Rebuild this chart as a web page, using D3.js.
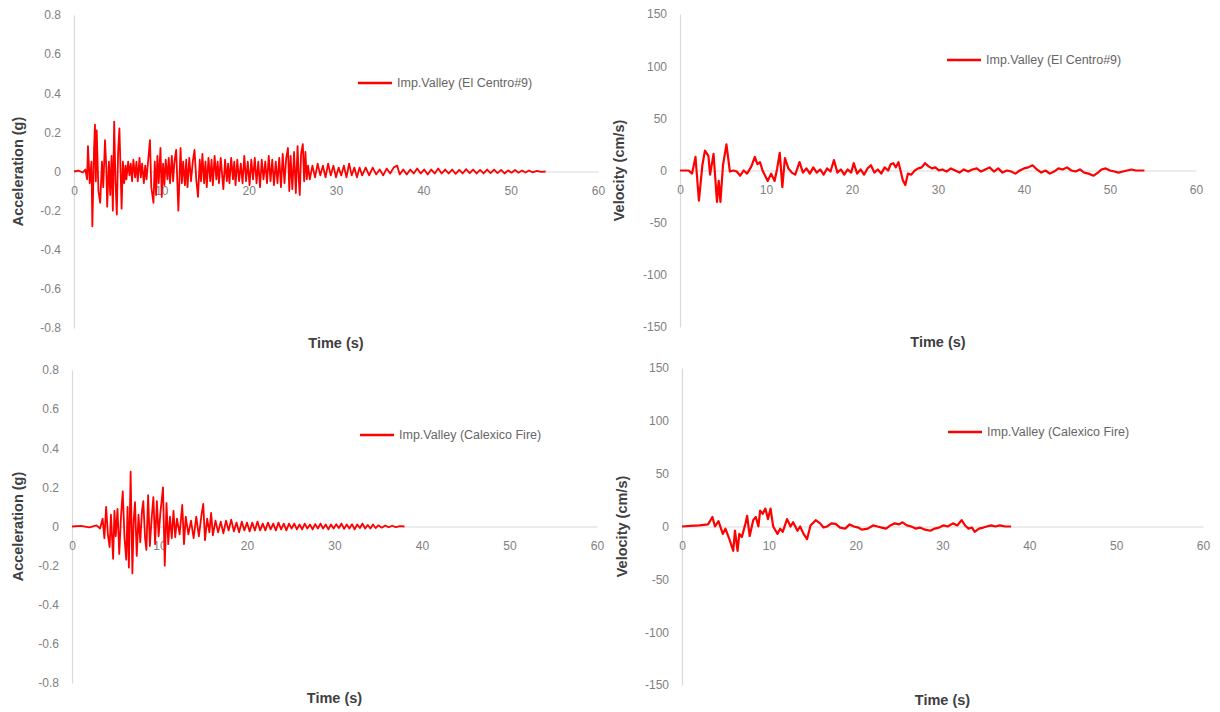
<!DOCTYPE html>
<html>
<head>
<meta charset="utf-8">
<script src="https://cdn.jsdelivr.net/npm/d3@7"></script>
<style>
  body { margin: 0; background: #fff; }
  svg { font-family: "Liberation Sans", Arial, sans-serif; }
  .tick-label { fill: #808080; font-size: 12px; }
  .axis-title { fill: #404040; font-size: 14.5px; font-weight: bold; }
  .legend-text { fill: #666666; font-size: 12.5px; }
</style>
</head>
<body>
<div id="graph_draw"></div>
<script>
// tick labels
var timeTicks = [0, 10, 20, 30, 40, 50, 60];
var accTicks = [-0.8, -0.6, -0.4, -0.2, 0, 0.2, 0.4, 0.6, 0.8];
var velTicks = [-150, -100, -50, 0, 50, 100, 150];

// records
var nameElCentro = "Imp.Valley (El Centro#9)";
var nameCalexico = "Imp.Valley (Calexico Fire)";

// El Centro #9 acceleration (g) : [time s, value]
var accElCentro = [
  [0,0],[0.5,0.005],[1.0,-0.005],[1.3,0.01],[1.5,-0.04],[1.6,0.13],[1.8,-0.06],[2.0,0.05],[2.1,-0.28],
  [2.3,0.12],[2.4,0.24],[2.5,-0.05],[2.6,0.21],[2.8,-0.1],[3.0,-0.16],[3.2,0.05],[3.35,-0.08],[3.55,0.16],
  [3.7,0.02],[3.8,-0.18],[4.0,0.05],[4.15,-0.12],[4.3,0.08],[4.45,-0.2],[4.6,0.255],[4.75,-0.05],[4.9,-0.22],
  [5.05,0.1],[5.2,0.22],[5.35,-0.02],[5.45,-0.19],[5.6,0.05],[5.75,-0.06],[5.9,0.03],[6.0,-0.04],[6.2,0.05],
  [6.35,-0.02],[6.5,0.04],[6.65,-0.05],[6.8,0.06],[7.0,-0.03],[7.15,0.05],[7.3,-0.05],[7.5,0.07],[7.65,-0.03],
  [7.8,0.04],[8.0,-0.06],[8.15,0.03],[8.3,-0.04],[8.5,0.06],[8.7,0.16],[8.85,-0.08],[9.1,-0.16],[9.25,0.05],
  [9.4,-0.12],[9.55,0.08],[9.7,-0.06],[9.9,0.12],[10.05,-0.13],[10.2,0.04],[10.35,-0.07],[10.5,0.06],[10.7,-0.04],
  [10.85,0.07],[11.0,-0.06],[11.2,0.08],[11.35,-0.05],[11.5,0.05],[11.7,0.11],[11.95,-0.2],[12.2,0.12],[12.35,-0.06],
  [12.5,0.05],[12.7,-0.07],[12.85,0.06],[13.0,-0.08],[13.2,0.07],[13.4,-0.05],[13.6,0.05],[13.8,0.11],[14.0,-0.04],
  [14.2,-0.13],[14.4,0.06],[14.55,-0.05],[14.7,0.09],[14.9,-0.06],[15.05,0.05],[15.2,-0.08],[15.4,0.07],[15.6,-0.05],
  [15.75,0.06],[15.9,-0.07],[16.1,0.08],[16.3,-0.04],[16.45,0.05],[16.6,-0.06],[16.8,0.07],[17.1,-0.09],[17.3,0.06],
  [17.5,-0.05],[17.65,0.04],[17.8,-0.06],[18.0,0.07],[18.2,-0.04],[18.35,0.05],[18.5,-0.07],[18.7,0.06],[18.9,-0.05],
  [19.1,0.04],[19.3,-0.06],[19.5,0.08],[19.7,-0.05],[19.9,0.05],[20.1,-0.07],[20.3,0.06],[20.5,-0.04],[20.7,0.07],
  [20.9,-0.06],[21.1,0.05],[21.3,-0.08],[21.5,0.06],[21.7,-0.04],[21.9,0.05],[22.1,-0.06],[22.3,0.08],[22.5,-0.05],
  [22.7,0.06],[22.9,-0.07],[23.1,0.05],[23.3,-0.06],[23.5,0.07],[23.7,-0.08],[23.9,0.09],[24.1,-0.06],[24.3,0.07],
  [24.5,0.12],[24.65,-0.1],[24.8,0.08],[25.0,-0.09],[25.2,0.1],[25.4,-0.11],[25.6,0.13],[25.75,-0.05],[25.85,-0.12],
  [26.0,0.09],[26.2,0.14],[26.35,-0.05],[26.5,0.1],[26.65,-0.04],[26.8,0.03],[27.0,-0.04],[27.3,0.03],[27.6,-0.03],
  [27.9,0.04],[28.2,-0.02],[28.5,0.03],[28.8,-0.03],[29.1,0.04],[29.4,-0.02],[29.7,0.03],[30.0,-0.03],[30.3,0.02],
  [30.6,-0.02],[30.9,0.03],[31.2,-0.03],[31.5,0.04],[31.8,-0.02],[32.1,0.02],[32.4,-0.03],[32.7,0.02],[33.0,-0.02],
  [33.4,0.02],[33.8,-0.02],[34.2,0.02],[34.6,-0.015],[35.0,0.01],[35.4,-0.02],[35.8,0.015],[36.2,-0.01],[36.6,0.02],
  [37.0,0.03],[37.3,-0.015],[37.7,0.01],[38.1,-0.015],[38.5,0.01],[38.9,-0.01],[39.3,0.015],[39.7,-0.01],[40.1,0.01],
  [40.5,-0.015],[40.9,0.01],[41.3,-0.01],[41.7,0.015],[42.1,-0.01],[42.5,0.01],[42.9,-0.01],[43.3,0.01],[43.7,-0.012],
  [44.1,0.008],[44.5,-0.01],[44.9,0.012],[45.3,-0.008],[45.7,0.01],[46.1,-0.01],[46.5,0.008],[46.9,-0.01],[47.3,0.01],
  [47.7,-0.008],[48.1,0.01],[48.5,-0.008],[48.9,0.008],[49.3,-0.01],[49.7,0.006],[50.1,-0.006],[50.5,0.008],[50.9,-0.006],
  [51.3,0.005],[51.7,-0.005],[52.1,0.005],[52.5,-0.004],[53.0,0.003],[53.5,-0.002],[54.0,0]
];

// El Centro #9 velocity (cm/s)
var velElCentro = [
  [0,0],[1.0,0],[1.4,-3],[1.8,13],[2.2,-29],[2.6,5],[2.9,19],[3.3,14],[3.5,-4],[3.9,16],[4.3,-30],[4.5,-10],
  [4.7,-30],[5.0,5],[5.4,25],[5.8,-1],[6.2,0],[6.6,-1],[7.0,-5],[7.4,0],[7.8,-3],[8.3,4],[8.7,13],[9.0,6],
  [9.3,8],[9.6,0],[10.2,-10],[10.6,-3],[11.0,-10],[11.3,2],[11.6,17],[11.9,-16],[12.2,12],[12.6,2],[13.0,-2],
  [13.4,-4],[13.9,8],[14.3,-2],[14.7,2],[15.1,-3],[15.5,3],[15.9,-2],[16.3,1],[16.7,-4],[17.1,2],[17.5,-1],
  [17.9,10],[18.3,-2],[18.7,1],[19.1,-4],[19.5,1],[19.9,-2],[20.2,7],[20.6,-3],[21.0,1],[21.4,-4],[21.8,2],
  [22.2,5],[22.6,-2],[23.0,1],[23.4,-3],[23.8,3],[24.2,0],[24.5,6],[24.8,7],[25.1,3],[25.4,8],[25.7,-2],
  [25.9,-9],[26.2,-14],[26.5,-3],[26.9,-4],[27.3,0],[27.7,2],[28.1,3],[28.5,7],[28.9,4],[29.3,2],[29.7,3],
  [30.1,0],[30.5,1],[31.0,-1],[31.5,2],[32.0,0],[32.5,-2],[33.0,1],[33.5,-1],[34.0,1],[34.5,2],[35.0,-1],
  [35.5,1],[36.0,3],[36.5,-1],[37.0,2],[37.5,-2],[38.0,0],[38.5,-1],[39.0,-3],[39.5,0],[40.0,2],[40.5,3],
  [41.0,5],[41.5,1],[42.0,-2],[42.5,0],[43.0,-3],[43.5,-1],[44.0,2],[44.5,1],[45.0,3],[45.5,0],[46.0,-1],
  [46.5,1],[47.0,-2],[47.5,-3],[48.1,-5],[48.6,-2],[49.0,1],[49.5,2],[50.0,0],[50.5,-1],[51.0,-2],[51.5,-1],
  [52.0,0],[52.5,1],[53.0,0],[53.5,0],[54.0,0]
];

// Calexico Fire acceleration (g)
var accCalexico = [
  [0,0],[1.0,0.003],[2.0,-0.004],[2.8,0.006],[3.2,-0.01],[3.5,0.04],[3.7,-0.06],[3.9,0.1],[4.1,-0.04],
  [4.3,-0.105],[4.45,0.06],[4.7,-0.165],[4.85,0.08],[5.0,-0.05],[5.2,0.09],[5.4,-0.14],[5.6,0.05],[5.8,0.18],
  [6.0,-0.06],[6.2,-0.17],[6.35,0.1],[6.5,-0.21],[6.7,0.28],[6.9,-0.24],[7.05,0.03],[7.2,0.125],[7.4,-0.15],
  [7.6,0.06],[7.8,-0.08],[8.0,0.08],[8.15,0.13],[8.35,-0.06],[8.5,-0.12],[8.7,0.16],[8.9,-0.1],[9.1,0.04],
  [9.3,0.15],[9.5,-0.09],[9.7,0.13],[9.9,-0.05],[10.1,0.07],[10.4,0.2],[10.6,-0.2],[10.8,0.12],[11.0,-0.09],
  [11.2,0.05],[11.4,-0.06],[11.6,0.08],[11.8,-0.055],[12.0,0.04],[12.3,-0.04],[12.6,0.11],[12.8,-0.09],[13.0,0.05],
  [13.3,-0.04],[13.6,0.03],[13.9,-0.06],[14.2,0.05],[14.5,-0.05],[14.8,0.06],[15.0,0.115],[15.2,-0.07],[15.45,0.04],
  [15.7,-0.03],[15.9,0.07],[16.1,-0.045],[16.4,0.03],[16.7,-0.03],[17.0,0.025],[17.3,-0.035],[17.6,0.03],[17.9,-0.02],
  [18.2,0.035],[18.5,-0.025],[18.8,0.02],[19.1,-0.03],[19.4,0.025],[19.7,-0.02],[20.0,0.02],[20.3,-0.025],[20.6,0.02],
  [20.9,-0.02],[21.2,0.025],[21.5,-0.02],[21.8,0.015],[22.1,-0.02],[22.4,0.02],[22.7,-0.015],[23.0,0.015],[23.3,-0.02],
  [23.6,0.02],[23.9,-0.015],[24.2,0.015],[24.5,-0.02],[24.8,0.015],[25.1,-0.01],[25.4,0.015],[25.7,-0.015],[26.0,0.01],
  [26.3,-0.015],[26.6,0.015],[26.9,-0.01],[27.2,0.01],[27.5,-0.015],[27.8,0.012],[28.1,-0.01],[28.4,0.015],[28.7,-0.01],
  [29.0,0.01],[29.3,-0.015],[29.6,0.01],[29.9,-0.01],[30.2,0.012],[30.5,-0.008],[30.8,0.015],[31.1,-0.012],[31.4,0.01],
  [31.7,-0.01],[32.0,0.012],[32.3,-0.015],[32.6,0.01],[32.9,-0.008],[33.2,0.015],[33.5,-0.01],[33.8,0.008],[34.1,-0.01],
  [34.4,0.01],[34.7,-0.008],[35.0,0.006],[35.4,-0.006],[35.8,0.005],[36.2,-0.004],[36.6,0.004],[37.0,-0.003],[37.5,0.002],
  [38.0,0]
];

// Calexico Fire velocity (cm/s)
var velCalexico = [
  [0,0],[1.0,0.5],[2.0,1],[3.0,2],[3.5,9],[3.8,0],[4.2,5],[4.7,-7],[5.0,-2],[5.5,-13],[5.9,-23],[6.1,-4],
  [6.4,-23],[6.6,-7],[6.9,-10],[7.3,2.5],[7.5,10],[7.8,-9],[8.2,6],[8.5,9],[8.8,0],[9.0,15],[9.3,12],[9.6,17],
  [9.9,7],[10.2,17],[10.5,0],[11.0,-7],[11.3,-2],[11.6,-5],[12.1,7],[12.5,0],[12.8,4],[13.3,-4],[13.6,0],
  [14.0,-7],[14.4,-12],[14.8,1],[15.4,6],[15.9,3],[16.3,-1],[16.7,0],[17.2,3],[17.7,2.5],[18.2,-1],[18.8,-2],
  [19.3,2],[19.8,0],[20.3,-1],[20.7,-3],[21.4,-2],[22.0,1],[22.5,0],[23.0,-1],[23.5,-2],[24.0,1],[24.5,3],
  [25.0,2],[25.4,4],[25.9,1],[26.4,0],[26.9,-2],[27.4,-1],[28.0,-3],[28.6,-4],[29.1,-2],[29.6,-1],[30.1,1],
  [30.6,0],[31.2,3],[31.7,1],[32.2,6],[32.6,1],[33.0,-2],[33.4,-1],[33.7,-5],[34.2,-2],[34.7,-1],[35.1,0],
  [35.6,1],[36.1,0],[36.6,1],[37.2,0],[37.9,0]
];

var width = 1220, height = 712;

var svg = d3.select("#graph_draw").append("svg")
    .attr("width", width)
    .attr("height", height);

// one panel per plot, box is the plot area in page pixels
var panels = [
  {data: accElCentro, name: nameElCentro, yTicks: accTicks, yTitle: "Acceleration (g)", lw: 1.8,
   box: {l: 74, r: 598, t: 15, b: 328}, titleX: 18, legend: {x: 284, y: 68}},
  {data: velElCentro, name: nameElCentro, yTicks: velTicks, yTitle: "Velocity (cm/s)", lw: 2.2,
   box: {l: 680, r: 1196, t: 14, b: 327}, titleX: 619, legend: {x: 267, y: 46}},
  {data: accCalexico, name: nameCalexico, yTicks: accTicks, yTitle: "Acceleration (g)", lw: 1.8,
   box: {l: 72, r: 597, t: 370, b: 683}, titleX: 18, legend: {x: 288, y: 65}},
  {data: velCalexico, name: nameCalexico, yTicks: velTicks, yTitle: "Velocity (cm/s)", lw: 2.2,
   box: {l: 682, r: 1203, t: 368, b: 685}, titleX: 622, legend: {x: 266, y: 64}}
];

panels.forEach(function(p) {
    var x = d3.scaleLinear().domain([0, 60]).range([p.box.l, p.box.r]);
    var y = d3.scaleLinear().domain(d3.extent(p.yTicks)).range([p.box.b, p.box.t]);
    var g = svg.append("g");

    // y axis line + labels (plain hyphen minus like the original)
    var yAxis = g.append("g")
        .attr("transform", "translate(" + p.box.l + ",0)")
        .call(d3.axisLeft(y).tickValues(p.yTicks).tickSize(0).tickPadding(13)
              .tickFormat(function(d) { return String(+d.toFixed(1)); }));
    yAxis.select(".domain").attr("stroke", "#d9d9d9").attr("stroke-width", 1.2);
    yAxis.selectAll("text").attr("class", "tick-label").attr("font-size", null).attr("font-family", null).attr("fill", null);

    // x axis sits on zero, labels below it
    var xAxis = g.append("g")
        .attr("transform", "translate(0," + y(0) + ")")
        .call(d3.axisBottom(x).tickValues(timeTicks).tickSize(0).tickPadding(15)
              .tickFormat(function(d) { return String(d); }));
    xAxis.select(".domain").attr("stroke", "#d9d9d9").attr("stroke-width", 1.2);
    xAxis.selectAll("text").attr("class", "tick-label").attr("font-size", null).attr("font-family", null).attr("fill", null);

    // the record
    var valueline = d3.line()
        .x(function(d) { return x(d[0]); })
        .y(function(d) { return y(d[1]); });

    g.append("path")
        .datum(p.data)
        .attr("fill", "none")
        .attr("stroke", "#ff0000")
        .attr("stroke-width", p.lw)
        .attr("stroke-linejoin", "round")
        .attr("d", valueline);

    // titles
    g.append("text")
        .attr("class", "axis-title")
        .attr("text-anchor", "middle")
        .attr("transform", "translate(" + (p.titleX + 5) + "," + y(0) + ") rotate(-90)")
        .text(p.yTitle);

    g.append("text")
        .attr("class", "axis-title")
        .attr("text-anchor", "middle")
        .attr("x", (p.box.l + p.box.r) / 2)
        .attr("y", p.box.b + 20)
        .text("Time (s)");

    // legend
    var lx = p.box.l + p.legend.x, ly = p.box.t + p.legend.y;
    g.append("line")
        .attr("x1", lx).attr("x2", lx + 34)
        .attr("y1", ly).attr("y2", ly)
        .attr("stroke", "#ff0000").attr("stroke-width", 2.5);
    g.append("text")
        .attr("class", "legend-text")
        .attr("x", lx + 39).attr("y", ly)
        .attr("dy", "0.35em")
        .text(p.name);
});
</script>
</body>
</html>
